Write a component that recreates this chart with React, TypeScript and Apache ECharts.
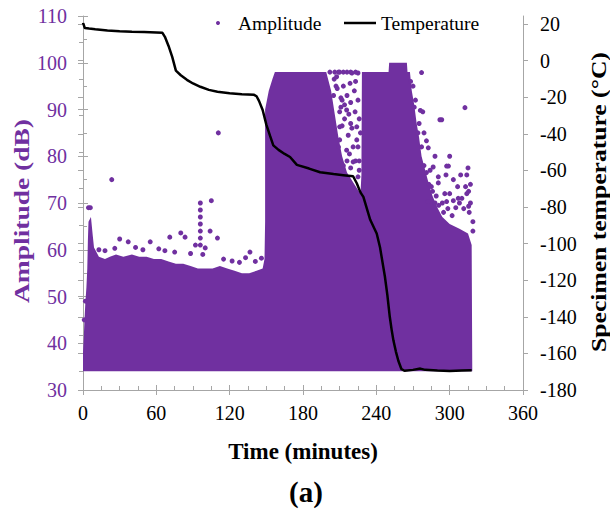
import React, { useEffect, useRef } from 'react';
import * as echarts from 'echarts';

// ---- Data ----
const xTickValues = [0, 60, 120, 180, 240, 300, 360];

// Temperature line (time in minutes, °C)
const tempTime = [0, 1.5, 5, 10, 20, 30, 40, 50, 60, 65, 67, 70, 73, 76, 80, 85, 90, 96, 103, 110, 120, 130, 140, 142, 144, 147, 150, 153, 155.7, 160, 165, 169.4, 175, 185, 194, 205, 213, 221, 224, 227, 229.4, 235, 240.3, 243, 247, 249, 251, 252.5, 254, 256, 258, 260.5, 263, 270, 276, 280, 290, 300, 310, 318];
const tempC = [20.8, 17.8, 17.5, 17.1, 16.5, 16.1, 15.8, 15.6, 15.4, 15.2, 13, 8, 2, -5.5, -8, -10.5, -12.5, -14.3, -16, -17, -17.9, -18.4, -18.7, -19.5, -22, -27, -35, -41, -46.3, -48.8, -51, -52.7, -57, -59, -61, -62, -62.6, -63.2, -67, -72, -74.5, -87, -94.5, -102, -118, -128, -140, -147, -153, -159, -164, -168.5, -169.5, -169, -168.3, -169, -169.4, -169.6, -169.3, -169.2];

// Upper envelope of the dense amplitude mass (floor at 34 dB)
const massTime = [0, 0, 0.6, 1.2, 2, 2.8, 3.5, 4, 4.5, 6.5, 8, 9, 10, 13, 18, 22, 27, 33, 40, 46, 52, 58, 64, 70, 76, 82, 88, 94, 100, 106, 112, 118, 124, 130, 136, 142, 147, 148.5, 149, 149, 152, 155, 157, 199, 203, 206, 209, 212, 216, 222, 227, 227.8, 228.2, 250, 250.5, 265, 265.5, 267.5, 269, 271, 273, 275, 277, 280, 283, 286, 290, 294, 300, 308, 315, 318, 318.5];
const massAmp = [34, 38, 41, 45, 49, 52, 56, 62, 66, 67, 63, 60.5, 60, 58.5, 58, 58.5, 59, 58.5, 59, 58.5, 58.5, 58, 58, 57.5, 57, 57, 56.5, 56, 56, 56, 56.5, 56, 55.5, 55, 55, 55.5, 56, 58, 66, 90, 94, 96.5, 98, 98, 94, 89, 84, 80, 76.5, 74, 72, 76, 98, 98, 100, 100, 98, 98, 94, 91, 87, 84, 80, 77, 74, 71.5, 69, 67, 65.5, 64.5, 63.5, 61, 34];

// Isolated amplitude hits outside the dense mass
const sparseTime = [4.5, 6, 23.5, 110.7, 96, 96, 96, 96, 96, 96, 96, 105, 104, 110, 80, 71, 30, 37, 55, 83.5, 92, 100, 136.6, 146, 13, 18, 26, 43, 49, 62, 67, 75, 88, 98, 115, 122, 128, 133, 141, 2, 1, 210, 215.7, 214, 210, 217, 210, 215.7, 221, 220, 225, 209, 218.5, 222, 225, 222.6, 224, 225, 225, 205, 207, 212, 219, 221, 216, 226, 208, 211, 213, 216, 219, 223, 226, 227, 218, 223, 226, 213, 219, 209, 202, 206, 210, 213, 216, 219, 223, 205.5, 211, 214, 217.5, 220, 207.5, 212, 224, 277, 312.5, 292, 293.5, 281, 282.5, 278, 276, 286.5, 297.5, 299, 315, 290.7, 297, 314, 285, 290.7, 306.5, 313, 315.5, 300, 289, 307, 314, 297.5, 308, 315.5, 282.5, 298.5, 311.5, 295, 316, 302, 272, 270, 279, 288, 284, 268, 271, 274, 275, 277, 279, 281, 283, 286, 288, 291, 294, 296, 303, 305, 310, 317, 317, 319, 319, 303, 309, 300];
const sparseAmp = [69, 69, 75, 85, 70, 68.5, 67, 65.5, 64, 62.5, 61, 70.5, 64, 62.5, 63.6, 62.7, 62.3, 61.7, 61.7, 62.7, 61, 60.4, 59.5, 58.2, 60, 59.8, 60.3, 60.5, 60, 60.2, 59.8, 59.5, 59.2, 59, 58, 57.6, 57.3, 58.3, 57.5, 49, 45, 89.5, 89.9, 88, 86.3, 84.5, 83.5, 81.3, 78.8, 97.8, 97.8, 98, 95.6, 94, 92, 89.5, 86.3, 82, 75.6, 93, 95, 92, 87, 82, 79, 79, 94.5, 90.5, 95, 93, 91.5, 96, 88, 85, 80.5, 79, 77, 78, 77.5, 82, 98, 98, 98, 98, 98, 98, 98, 96.5, 92.5, 91, 89, 86, 97, 86.5, 83.5, 97.9, 90.4, 87.8, 87.8, 83.3, 81.8, 89.5, 89.8, 77.7, 77.9, 77.9, 77.5, 75.6, 76, 76, 73.5, 74.3, 73.5, 73.5, 72.5, 72, 71.5, 71, 72, 70.3, 70, 69.3, 70.3, 68.8, 68.8, 68, 68, 67.3, 92, 95, 85, 80, 77, 96, 90.5, 85, 87, 82, 78, 76.5, 74, 72.5, 70, 69.5, 70, 72, 70.5, 69, 71, 74, 70, 66, 64, 75, 76, 80];

const PURPLE = '#7030A0';
const GRAY = '#A6A6A6';
const FONT = "'Liberation Serif', 'Times New Roman', serif";

export default function App() {
  const ref = useRef<HTMLDivElement>(null);

  useEffect(() => {
    const chart = echarts.init(ref.current as HTMLDivElement, null, { renderer: 'svg' });

    const tickLine = { color: GRAY, width: 1 };
    const hiddenLabel = { show: false };

    const option: any = {
      animation: false,
      backgroundColor: '#fff',
      grid: [
        { left: 83, right: 87, top: 16, bottom: 122 },
        { left: 83, right: 87, top: 24, bottom: 122 },
      ],
      legend: [
        {
          data: [{ name: 'Amplitude', icon: 'circle' }],
          left: 211, top: 8, itemWidth: 30, itemHeight: 4, itemGap: 0,
          textStyle: { fontSize: 19.5, fontFamily: FONT, color: '#000' },
          selectedMode: false,
        },
        {
          data: [{ name: 'Temperature', icon: 'rect' }],
          left: 339, top: 8, itemWidth: 32, itemHeight: 2.5, itemGap: 0,
          textStyle: { fontSize: 19.5, fontFamily: FONT, color: '#000' },
          selectedMode: false,
        },
      ],
      xAxis: [
        {
          type: 'value', gridIndex: 0, position: 'bottom', min: 0, max: 360, interval: 60,
          axisLine: { show: true, lineStyle: tickLine },
          axisTick: { show: true, inside: true, length: 5, lineStyle: tickLine },
          minorTick: { show: true, splitNumber: 4, length: 4, lineStyle: tickLine },
          splitLine: { show: false },
          axisLabel: {
            color: '#000', fontSize: 20, fontFamily: FONT, margin: 13,
            formatter: (v: number) => (xTickValues.includes(v) ? String(v) : ''),
          },
          name: 'Time (minutes)', nameLocation: 'middle', nameGap: 50,
          nameTextStyle: { fontSize: 23, fontWeight: 'bold', color: '#000', fontFamily: FONT },
        },
        {
          type: 'value', gridIndex: 0, position: 'bottom', min: 0, max: 360, interval: 60,
          axisLine: { show: false },
          axisTick: { show: true, inside: false, length: 5, lineStyle: tickLine },
          splitLine: { show: false }, axisLabel: hiddenLabel,
        },
        {
          type: 'value', gridIndex: 1, min: 0, max: 360, show: false,
        },
      ],
      yAxis: [
        {
          type: 'value', gridIndex: 0, position: 'left', min: 30, max: 110, interval: 10,
          axisLine: { show: true, lineStyle: tickLine },
          axisTick: { show: true, inside: true, length: 5, lineStyle: tickLine },
          minorTick: { show: true, splitNumber: 2, length: 4, lineStyle: tickLine },
          splitLine: { show: false },
          axisLabel: { color: PURPLE, fontSize: 20, fontFamily: FONT, margin: 16 },
        },
        {
          type: 'value', gridIndex: 0, position: 'left', min: 30, max: 110, interval: 10,
          axisLine: { show: false },
          axisTick: { show: true, inside: false, length: 5, lineStyle: tickLine },
          splitLine: { show: false }, axisLabel: hiddenLabel,
        },
        {
          type: 'value', gridIndex: 1, position: 'right', min: -180, max: 20, interval: 20,
          axisLine: { show: false },
          axisTick: { show: true, inside: true, length: 5, lineStyle: tickLine },
          minorTick: { show: true, splitNumber: 2, length: 4, lineStyle: tickLine },
          splitLine: { show: false },
          axisLabel: { color: '#000', fontSize: 20, fontFamily: FONT, margin: 17 },
        },
        {
          type: 'value', gridIndex: 1, position: 'right', min: -180, max: 20, interval: 20,
          axisLine: { show: false },
          axisTick: { show: true, inside: false, length: 5, lineStyle: tickLine },
          splitLine: { show: false }, axisLabel: hiddenLabel,
        },
        {
          type: 'value', gridIndex: 0, position: 'right', min: 0, max: 1,
          axisLine: { show: true, lineStyle: tickLine },
          axisTick: { show: false }, splitLine: { show: false }, axisLabel: hiddenLabel,
        },
      ],
      series: [
        {
          type: 'custom', name: 'Amplitude mass', xAxisIndex: 0, yAxisIndex: 0, silent: true, z: 2,
          data: [[massTime[0], massAmp[0]]],
          renderItem: (_params: any, api: any) => {
            const pts = massTime.map((t, i) => api.coord([t, massAmp[i]]));
            return { type: 'polygon', shape: { points: pts }, style: { fill: PURPLE } };
          },
        },
        {
          type: 'scatter', name: 'Amplitude', xAxisIndex: 0, yAxisIndex: 0, z: 3,
          symbol: 'circle', symbolSize: 5,
          itemStyle: { color: PURPLE, opacity: 1 },
          data: sparseTime.map((t, i) => [t, sparseAmp[i]]),
        },
        {
          type: 'line', name: 'Temperature', xAxisIndex: 2, yAxisIndex: 2, z: 5,
          showSymbol: false, symbol: 'none',
          itemStyle: { color: '#000' },
          lineStyle: { color: '#000', width: 2.5 },
          data: tempTime.map((t, i) => [t, tempC[i]]),
        },
      ],
      graphic: [
        {
          type: 'text', x: 21, y: 211, rotation: Math.PI / 2, scaleX: 1.25,
          style: {
            text: 'Amplitude (dB)', fill: PURPLE, fontSize: 22, fontWeight: 'bold',
            fontFamily: FONT, align: 'center', verticalAlign: 'middle',
          },
        },
        {
          type: 'text', x: 599, y: 202, rotation: Math.PI / 2, scaleX: 1.28,
          style: {
            text: 'Specimen temperature (°C)', fill: '#000', fontSize: 20, fontWeight: 'bold',
            fontFamily: FONT, align: 'center', verticalAlign: 'middle',
          },
        },
        {
          type: 'text', x: 306, y: 492,
          style: {
            text: '(a)', fill: '#000', fontSize: 29, fontWeight: 'bold',
            fontFamily: FONT, align: 'center', verticalAlign: 'middle',
          },
        },
      ],
    };

    chart.setOption(option);
    return () => chart.dispose();
  }, []);

  return (
    <div
      ref={ref}
      style={{ position: 'fixed', left: 0, top: 0, width: 610, height: 512 }}
    />
  );
}
